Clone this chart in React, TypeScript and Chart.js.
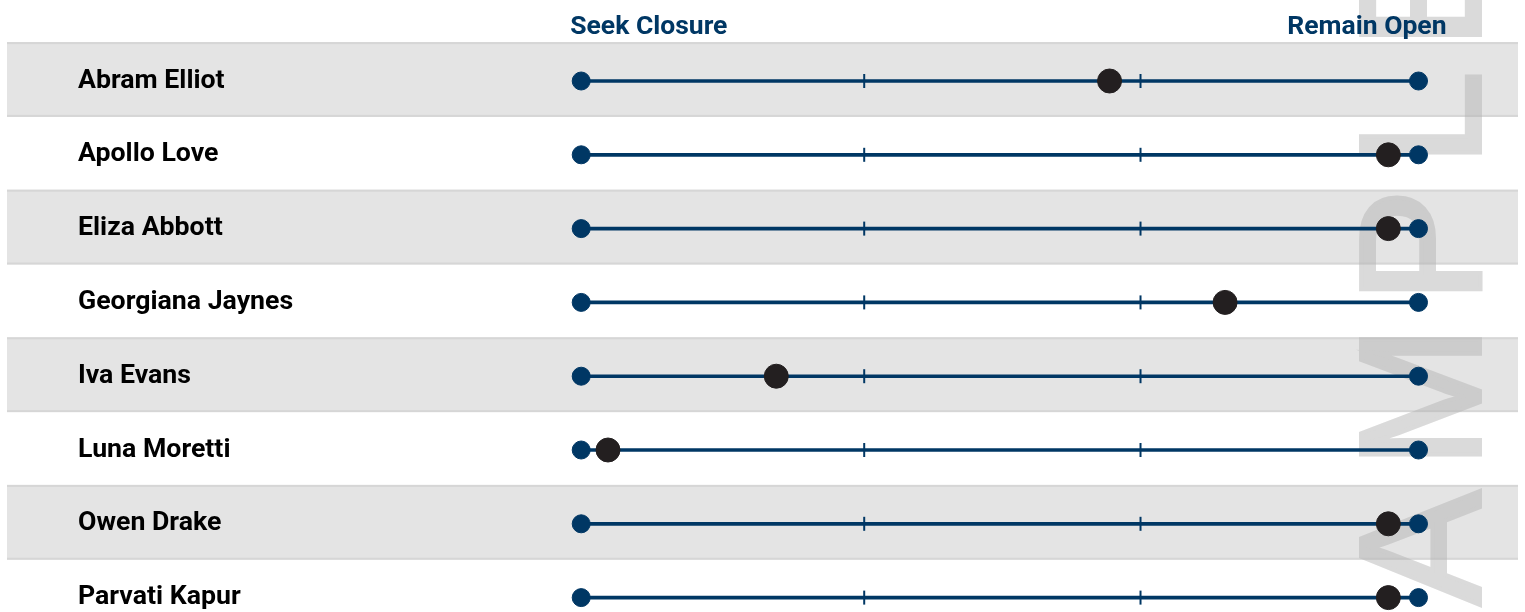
import React, { useEffect, useRef } from 'react';
import { Chart, registerables } from 'chart.js';

Chart.register(...registerables);

// ---- data ----
const names = [
  'Abram Elliot',
  'Apollo Love',
  'Eliza Abbott',
  'Georgiana Jaynes',
  'Iva Evans',
  'Luna Moretti',
  'Owen Drake',
  'Parvati Kapur',
];
const scores = [63.1, 96.4, 96.4, 76.9, 23.3, 3.2, 96.4, 96.4];
const scaleEnds = [0, 100];
const trackTicks = [33.8, 66.8];
const endLabels = ['Seek Closure', 'Remain Open'];
const shadedRows = [0, 2, 4, 6];
const watermark = 'SAMPLE';

// ---- styles ----
const NAVY = '#003764';
const DOT = '#231f20';
const BAND = '#e4e4e4';
const BAND_EDGE = '#d6d6d6';
const MARK = 'rgb(181,181,181)';

const decorPlugin = {
  id: 'decor',
  beforeDraw(chart: any) {
    const { ctx, scales, width } = chart;
    const y = scales.y;
    const step = Math.abs(y.getPixelForValue(1) - y.getPixelForValue(0));
    ctx.save();
    shadedRows.forEach((i) => {
      const c = y.getPixelForValue(i);
      const top = c - step / 2 - 2;
      const bottom = c + step / 2 - 1;
      ctx.fillStyle = BAND;
      ctx.fillRect(7, top, width - 14, bottom - top);
      ctx.fillStyle = BAND_EDGE;
      ctx.fillRect(7, top, width - 14, 2);
      ctx.fillRect(7, bottom - 2, width - 14, 2);
    });
    ctx.restore();
  },
  beforeDatasetsDraw(chart: any) {
    const { ctx, width, height } = chart;
    const off = document.createElement('canvas');
    off.width = chart.canvas.width;
    off.height = chart.canvas.height;
    const o = off.getContext('2d') as any;
    o.translate(width - 45, height + 130);
    o.rotate(-Math.PI / 2);
    o.font = '172px "Liberation Sans", Arial, sans-serif';
    o.letterSpacing = '22px';
    o.fillStyle = MARK;
    o.strokeStyle = MARK;
    o.lineWidth = 4;
    o.lineJoin = 'miter';
    o.textAlign = 'left';
    o.textBaseline = 'alphabetic';
    o.fillText(watermark, 0, 0);
    o.strokeText(watermark, 0, 0);
    ctx.save();
    ctx.setTransform(1, 0, 0, 1, 0, 0);
    ctx.globalAlpha = 0.5;
    ctx.drawImage(off, 0, 0);
    ctx.restore();
  },
  afterDraw(chart: any) {
    const { ctx, scales } = chart;
    const x = scales.x;
    ctx.save();
    ctx.font = 'bold 26.5px Roboto, sans-serif';
    ctx.fillStyle = NAVY;
    ctx.textBaseline = 'alphabetic';
    ctx.textAlign = 'left';
    ctx.fillText(endLabels[0], x.getPixelForValue(scaleEnds[0]) - 11, 34);
    ctx.textAlign = 'right';
    ctx.fillText(endLabels[1], x.getPixelForValue(scaleEnds[1]) + 28, 34);
    ctx.restore();
  },
};

export default function App() {
  const canvasRef = useRef<HTMLCanvasElement | null>(null);

  useEffect(() => {
    if (!canvasRef.current) return;
    const rows = names.map((_, i) => i);

    const chart = new Chart(canvasRef.current, {
      type: 'bar',
      data: {
        datasets: [
          {
            type: 'scatter',
            label: 'score',
            data: rows.map((i) => ({ x: scores[i], y: i })),
            backgroundColor: DOT,
            borderColor: DOT,
            borderWidth: 1,
            pointRadius: 12,
            order: 0,
            clip: false,
          } as any,
          {
            type: 'scatter',
            label: 'ends',
            data: rows.flatMap((i) => scaleEnds.map((v) => ({ x: v, y: i }))),
            backgroundColor: NAVY,
            borderColor: NAVY,
            borderWidth: 1,
            pointRadius: 9,
            order: 1,
            clip: false,
          } as any,
          {
            type: 'scatter',
            label: 'ticks',
            data: rows.flatMap((i) => trackTicks.map((v) => ({ x: v, y: i }))),
            pointStyle: 'line',
            rotation: 90,
            pointRadius: 7,
            borderColor: NAVY,
            borderWidth: 2,
            order: 2,
            clip: false,
          } as any,
          {
            type: 'bar',
            label: 'track',
            data: rows.map((i) => ({ y: i, x: [scaleEnds[0], scaleEnds[1]] })),
            backgroundColor: NAVY,
            borderWidth: 0,
            barThickness: 3,
            order: 3,
            clip: false,
          } as any,
        ],
      },
      options: {
        indexAxis: 'y',
        animation: false,
        responsive: true,
        maintainAspectRatio: false,
        events: [],
        layout: { autoPadding: false, padding: { left: 78, right: 106.5, top: 44.1, bottom: 0 } },
        plugins: { legend: { display: false }, tooltip: { enabled: false } },
        scales: {
          x: {
            type: 'linear',
            min: scaleEnds[0],
            max: scaleEnds[1],
            display: false,
          },
          y: {
            type: 'linear',
            reverse: true,
            min: -0.5,
            max: 7.195,
            offset: false,
            grid: { display: false },
            border: { display: false },
            afterBuildTicks: (scale: any) => {
              scale.ticks = rows.map((i) => ({ value: i }));
            },
            afterFit: (scale: any) => {
              scale.width = 581.2 - 78;
              scale.paddingTop = 0;
              scale.paddingBottom = 0;
            },
            ticks: {
              autoSkip: false,
              crossAlign: 'far',
              color: '#000',
              font: { family: 'Roboto', weight: 'bold', size: 26.7 },
              callback: (v: any) => names[Number(v)] ?? '',
            },
          },
        },
      } as any,
      plugins: [decorPlugin],
    });

    return () => chart.destroy();
  }, []);

  return (
    <div style={{ position: 'fixed', left: 0, top: 0, width: 1525, height: 612, background: '#fff' }}>
      <canvas ref={canvasRef} />
    </div>
  );
}
